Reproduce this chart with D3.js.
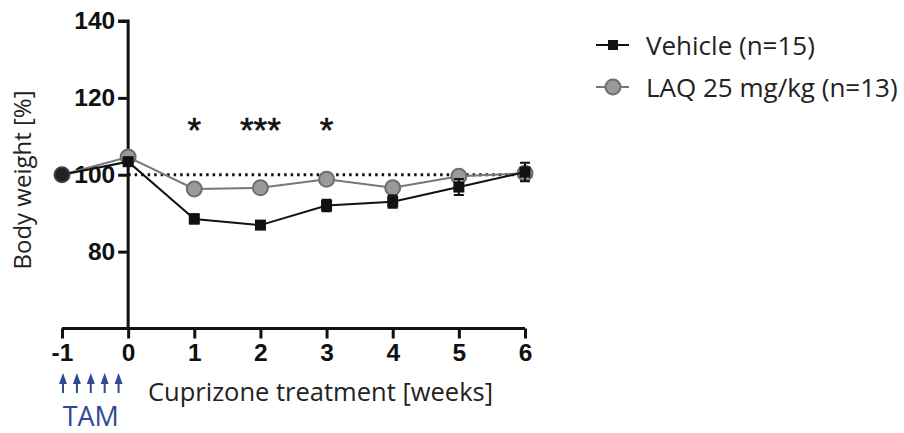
<!DOCTYPE html>
<html>
<head>
<meta charset="utf-8">
<script src="https://cdn.jsdelivr.net/npm/d3@7"></script>
<style>
  body { margin: 0; background: #fff; }
  svg { display: block; }
</style>
</head>
<body>
<svg width="904" height="433"></svg>
<script>
// data
var weeks = [-1, 0, 1, 2, 3, 4, 5, 6];
var vehicleMean = [100, 103.4, 88.5, 86.9, 92, 93, 96.8, 100.7];
var vehicleErr = [0.3, 0.5, 1.2, 0.8, 1.5, 1.6, 2.1, 2.4];
var laqMean = [100, 104.6, 96.3, 96.6, 98.8, 96.6, 99.6, 100.4];
var laqErr = [0.3, 0.5, 0.6, 0.5, 1.0, 1.0, 1.0, 1.2];
var yTicks = [80, 100, 120, 140];
var stars = [{week: 1, label: '*'}, {week: 2, label: '***'}, {week: 3, label: '*'}];
var tamDoses = [-1, -0.79, -0.58, -0.37, -0.16];
var seriesNames = ['Vehicle (n=15)', 'LAQ 25 mg/kg (n=13)'];

var svg = d3.select('svg');
var tickFont = 'Liberation Sans, Arial, sans-serif';
var textFont = '"Open Sans", "Noto Sans", sans-serif';

//scales
var xScale = d3.scaleLinear().domain([-1, 6]).range([62, 525]);
var yScale = d3.scaleLinear().domain([60, 140]).range([328.5, 21]);

// y axis
var yAxis = d3.axisLeft(yScale).tickValues(yTicks).tickSize(10).tickPadding(3);
var gy = svg.append('g')
    .attr('transform', 'translate(' + [xScale(0), 0] + ')')
    .call(yAxis);

// x axis
var xAxis = d3.axisBottom(xScale).tickValues(weeks).tickSize(10).tickPadding(5)
    .tickFormat(d => String(d));
var gx = svg.append('g')
    .attr('transform', 'translate(' + [0, yScale(60)] + ')')
    .call(xAxis);

[gx, gy].forEach(g => {
    g.attr('font-size', null).attr('font-family', null);
    g.select('.domain').attr('stroke', '#111').attr('stroke-width', 3);
    g.selectAll('.tick line').attr('stroke', '#111').attr('stroke-width', 3);
    g.selectAll('.tick text')
        .attr('fill', '#111')
        .attr('font-family', tickFont)
        .attr('font-weight', 'bold')
        .attr('font-size', 24.5);
});
gy.select('.domain').attr('d', 'M0,' + yScale(60) + 'V' + yScale(140) + 'H-10');
gx.select('.domain').attr('d', 'M' + xScale(-1) + ',0H' + xScale(6));

// dotted baseline at 100 %
svg.append('line')
    .attr('x1', xScale(0)).attr('x2', xScale(6))
    .attr('y1', yScale(100)).attr('y2', yScale(100))
    .attr('stroke', '#111')
    .attr('stroke-width', 3)
    .attr('stroke-dasharray', '2.5,4');

var line = d3.line()
    .x((d, i) => xScale(weeks[i]))
    .y(d => d);

function drawSeries(mean, err, stroke) {
    var g = svg.append('g');
    g.append('path')
        .attr('d', line(mean.map(v => yScale(v))))
        .attr('fill', 'none')
        .attr('stroke', stroke)
        .attr('stroke-width', 2);
    g.selectAll('.err')
        .data(mean).enter().append('path')
        .attr('d', (d, i) => {
            var x = xScale(weeks[i]);
            var y1 = yScale(d - err[i]), y2 = yScale(d + err[i]);
            return 'M' + (x - 5) + ',' + y1 + 'H' + (x + 5) + 'M' + x + ',' + y1 + 'V' + y2 + 'M' + (x - 5) + ',' + y2 + 'H' + (x + 5);
        })
        .attr('stroke', stroke)
        .attr('stroke-width', 2)
        .attr('fill', 'none');
    return g;
}

// LAQ series
var gLaq = drawSeries(laqMean, laqErr, '#777');
gLaq.selectAll('circle')
    .data(laqMean).enter().append('circle')
    .attr('cx', (d, i) => xScale(weeks[i]))
    .attr('cy', d => yScale(d))
    .attr('r', 7.5)
    .attr('fill', '#9a9a9a')
    .attr('stroke', '#6e6e6e')
    .attr('stroke-width', 2);

// vehicle series
var gVeh = drawSeries(vehicleMean, vehicleErr, '#111');
gVeh.selectAll('rect')
    .data(vehicleMean).enter().append('rect')
    .attr('x', (d, i) => xScale(weeks[i]) - 5.5)
    .attr('y', d => yScale(d) - 5.5)
    .attr('width', 11)
    .attr('height', 11)
    .attr('fill', '#111');

// week -1: both groups overlap into a dark dot
svg.append('circle')
    .attr('cx', xScale(weeks[0])).attr('cy', yScale(laqMean[0]))
    .attr('r', 7.5).attr('fill', '#222').attr('stroke', '#444').attr('stroke-width', 1.5);

// significance stars
svg.selectAll('.star')
    .data(stars).enter().append('text')
    .attr('x', d => xScale(d.week))
    .attr('y', yScale(120) + 44)
    .attr('text-anchor', 'middle')
    .attr('font-family', tickFont)
    .attr('font-size', 35)
    .attr('fill', '#111')
    .attr('stroke', '#111')
    .attr('stroke-width', 0.6)
    .text(d => d.label);

// axis titles
svg.append('text')
    .attr('transform', 'translate(31,180) rotate(-90)')
    .attr('text-anchor', 'middle')
    .attr('font-family', textFont)
    .attr('font-size', 24)
    .attr('fill', '#222')
    .text('Body weight [%]');

svg.append('text')
    .attr('x', 148).attr('y', 401)
    .attr('font-family', textFont)
    .attr('font-size', 25.5)
    .attr('fill', '#222')
    .text('Cuprizone treatment [weeks]');

// TAM arrows
var blue = '#2e4a94';
svg.selectAll('.arrow')
    .data(tamDoses).enter().append('path')
    .attr('d', d => 'M' + (xScale(d) + 1) + ',393V381')
    .attr('stroke', blue)
    .attr('stroke-width', 2);
svg.selectAll('.head')
    .data(tamDoses).enter().append('path')
    .attr('d', d => {
        var x = xScale(d) + 1;
        return 'M' + (x - 4) + ',384L' + x + ',373L' + (x + 4) + ',384Z';
    })
    .attr('fill', blue);
svg.append('text')
    .attr('x', xScale(-0.58) + 1).attr('y', 426)
    .attr('text-anchor', 'middle')
    .attr('font-family', textFont)
    .attr('font-size', 27)
    .attr('fill', blue)
    .text('TAM');

// legend
var legend = svg.append('g').attr('transform', 'translate(596,45)');
legend.append('line').attr('x1', 0).attr('x2', 33).attr('y1', 0).attr('y2', 0)
    .attr('stroke', '#111').attr('stroke-width', 2);
legend.append('rect').attr('x', 12).attr('y', -5).attr('width', 10).attr('height', 10).attr('fill', '#111');
legend.append('line').attr('x1', 0).attr('x2', 33).attr('y1', 42).attr('y2', 42)
    .attr('stroke', '#777').attr('stroke-width', 2);
legend.append('circle').attr('cx', 17).attr('cy', 42).attr('r', 7.5)
    .attr('fill', '#9a9a9a').attr('stroke', '#6e6e6e').attr('stroke-width', 2);
legend.selectAll('text')
    .data(seriesNames).enter().append('text')
    .attr('x', 50)
    .attr('y', (d, i) => 10 + i * 42)
    .attr('font-family', textFont)
    .attr('font-size', 26)
    .attr('fill', '#222')
    .text(d => d);
</script>
</body>
</html>
